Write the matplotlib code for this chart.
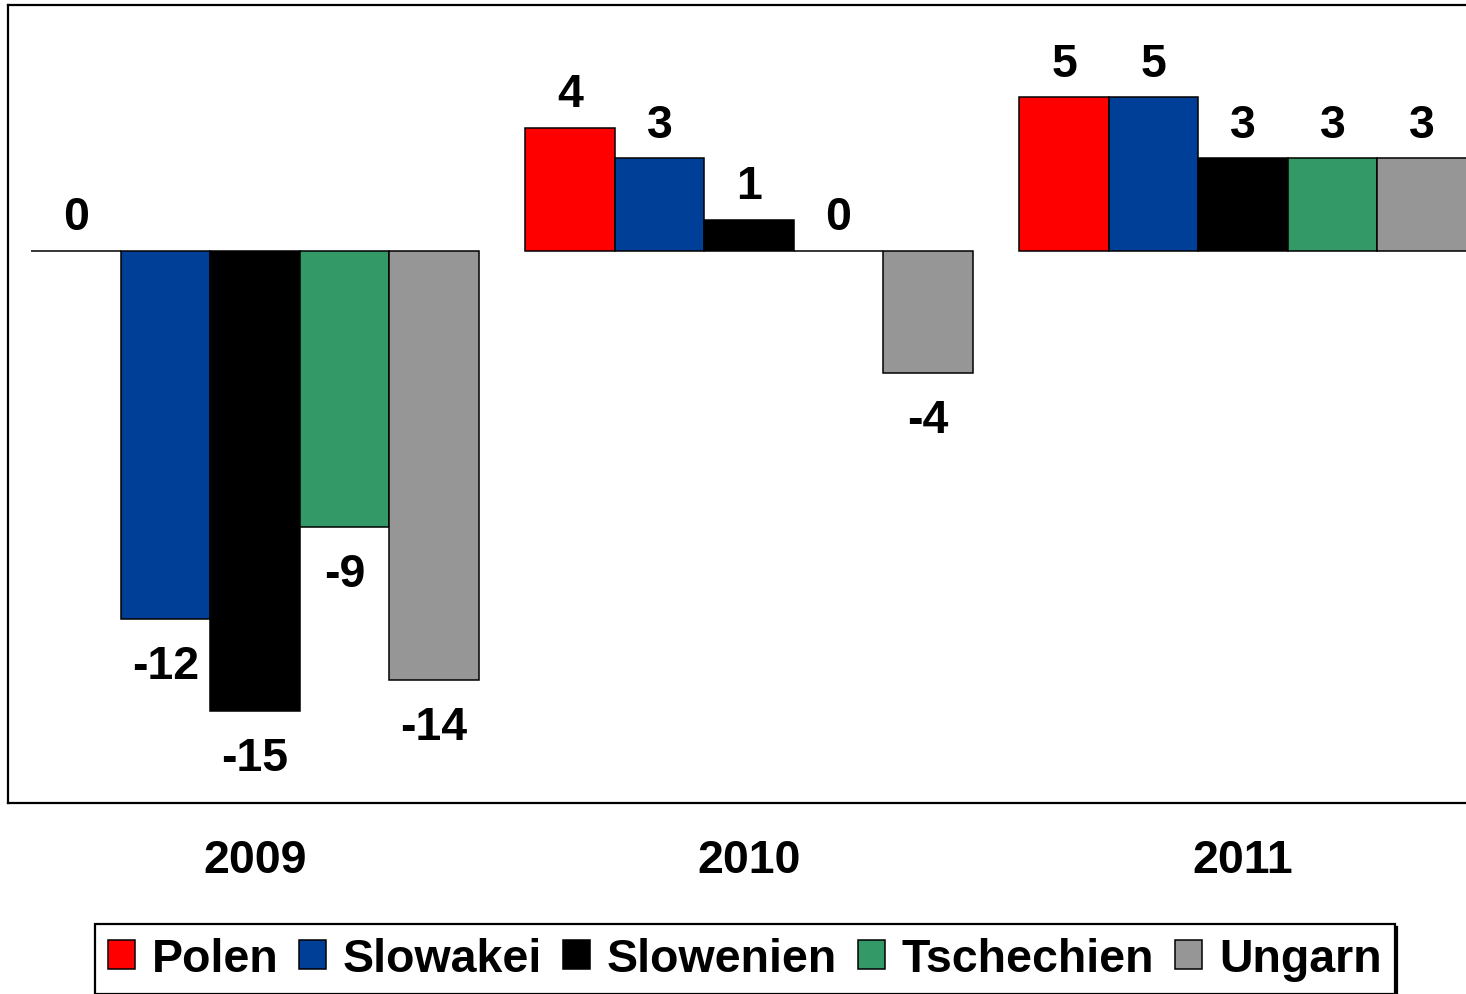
import matplotlib.pyplot as plt
import numpy as np

plt.rcParams['font.family'] = ['Liberation Sans', 'DejaVu Sans']
plt.rcParams['font.weight'] = 'bold'

years = ['2009', '2010', '2011']
countries = ['Polen', 'Slowakei', 'Slowenien', 'Tschechien', 'Ungarn']
colors = ['#FF0000', '#003F98', '#000000', '#339966', '#969696']

polen = [0, 4, 5]
slowakei = [-12, 3, 5]
slowenien = [-15, 1, 3]
tschechien = [-9, 0, 3]
ungarn = [-14, -4, 3]
series = [polen, slowakei, slowenien, tschechien, ungarn]

fig = plt.figure(figsize=(14.66, 9.95), dpi=100)
ax = fig.add_axes([8 / 1466, 0.192, 1482 / 1466, 0.802])

x = np.arange(len(years))
w = 0.181
for j, (name, vals) in enumerate(zip(countries, series)):
    pos = x + (j - 2) * w
    ax.bar(pos, vals, w, color=colors[j], edgecolor='black', linewidth=1.1, label=name)
    for px, v in zip(pos, vals):
        if v >= 0:
            off = 24
        else:
            off = -34
        ax.annotate(str(v), (px, v), xytext=(0, off), textcoords='offset points',
                    ha='center', va='center', fontsize=33.5, fontweight='bold')

ax.set_xlim(-0.5, 2.5)
ax.set_ylim(-18, 8)
ax.set_yticks([])
ax.set_xticks(x)
ax.set_xticklabels(years, fontsize=33.5, fontweight='bold')
ax.tick_params(axis='x', length=0, pad=25)
for s in ax.spines.values():
    s.set_linewidth(1.6)

# legend box with a hard black shadow like the original
leg = fig.legend(loc='center', bbox_to_anchor=(0.508, 0.035), ncol=5, fontsize=33.5,
                 frameon=True, fancybox=False, shadow={'color': 'black', 'alpha': 1},
                 handlelength=0.58, handleheight=0.58, handletextpad=0.36,
                 columnspacing=0.45, borderpad=0.28, borderaxespad=0)
leg.get_frame().set_edgecolor('black')
leg.get_frame().set_linewidth(1.6)

fig.savefig('out.png', dpi=100)
